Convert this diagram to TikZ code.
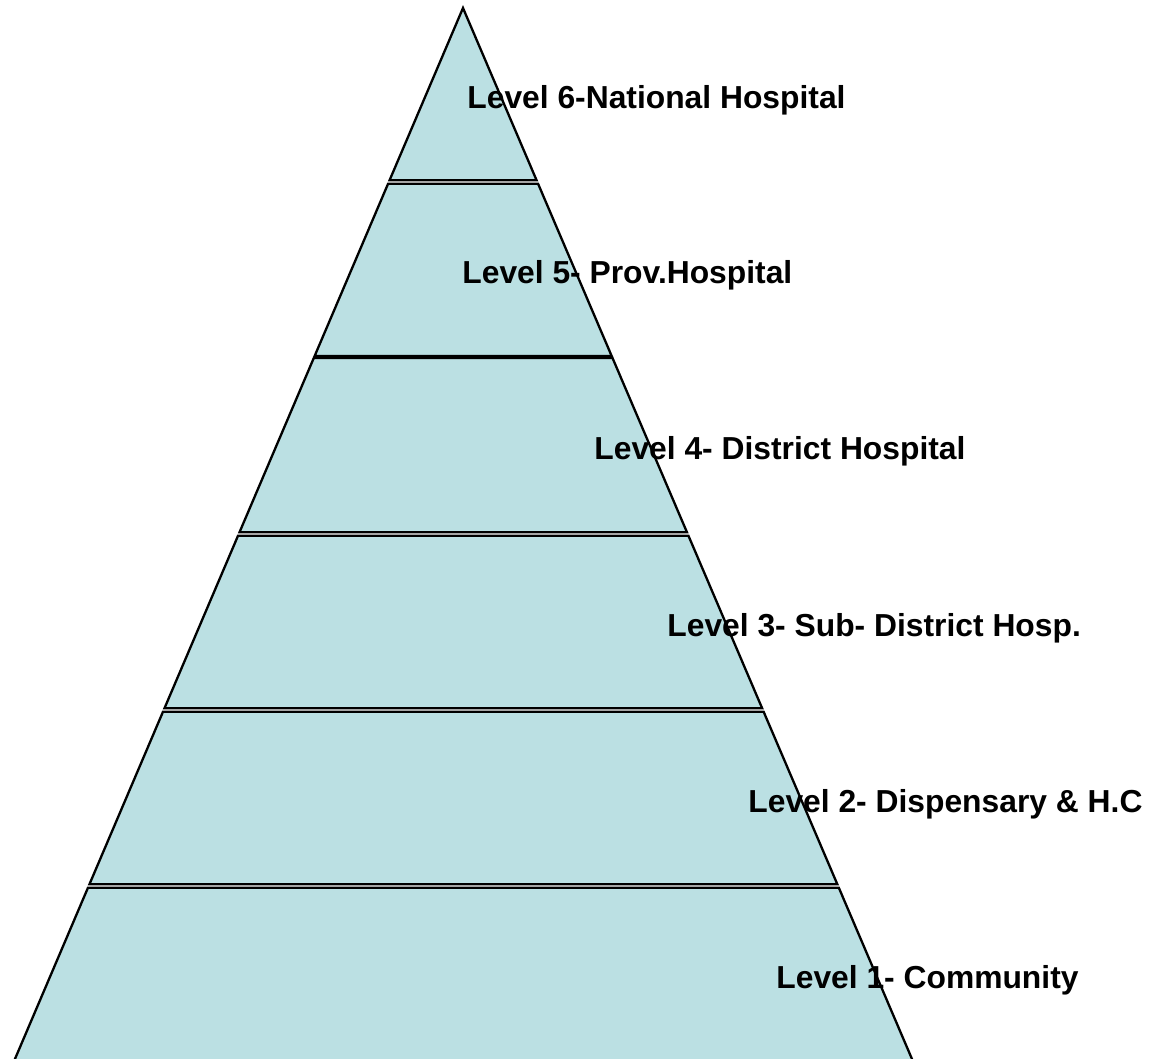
\documentclass[tikz,border=0pt]{standalone}
\usepackage{fontspec}
\setmainfont{Liberation Sans}
\definecolor{livello}{RGB}{187,224,227}
\tikzset{
  fascia/.style={draw=black, fill=livello, line width=1.15pt, line join=miter},
  etichetta/.style={anchor=west, inner sep=0pt, font=\bfseries\fontsize{15.9}{19}\selectfont}
}
\begin{document}
\begin{tikzpicture}[x=0.5pt, y=-0.5pt]
			% Definizioni della piramide
			\def\apice{463}
			\def\sx{0.4263}
			\def\dx{0.4272}
			
			% --- Cornice ---
			\useasboundingbox (0,0) rectangle (1153,1059);
			\clip (0,0) rectangle (1153,1059);
			
			% --- Fasce ---
			\foreach \alto/\basso in {8/180.3, 183.7/356, 358/532.3, 535.7/708.3, 711.7/884.3, 887.7/1075}
			\draw[fascia] ({\apice-\sx*(\alto-8)},\alto) -- ({\apice+\dx*(\alto-8)},\alto)
			-- ({\apice+\dx*(\basso-8)},\basso) -- ({\apice-\sx*(\basso-8)},\basso) -- cycle;
			
			% --- Etichette ---
			\node[etichetta] (liv6) at (467,100) {Level 6-National Hospital};
			\node[etichetta] (liv5) at (462,275) {Level 5- Prov.Hospital};
			\node[etichetta] (liv4) at (594,451) {Level 4- District Hospital};
			\node[etichetta] (liv3) at (667,628) {Level 3- Sub- District Hosp.};
			\node[etichetta] (liv2) at (748,804) {Level 2- Dispensary \& H.C};
			\node[etichetta] (liv1) at (776,980) {Level 1- Community};
		\end{tikzpicture}
\end{document}
